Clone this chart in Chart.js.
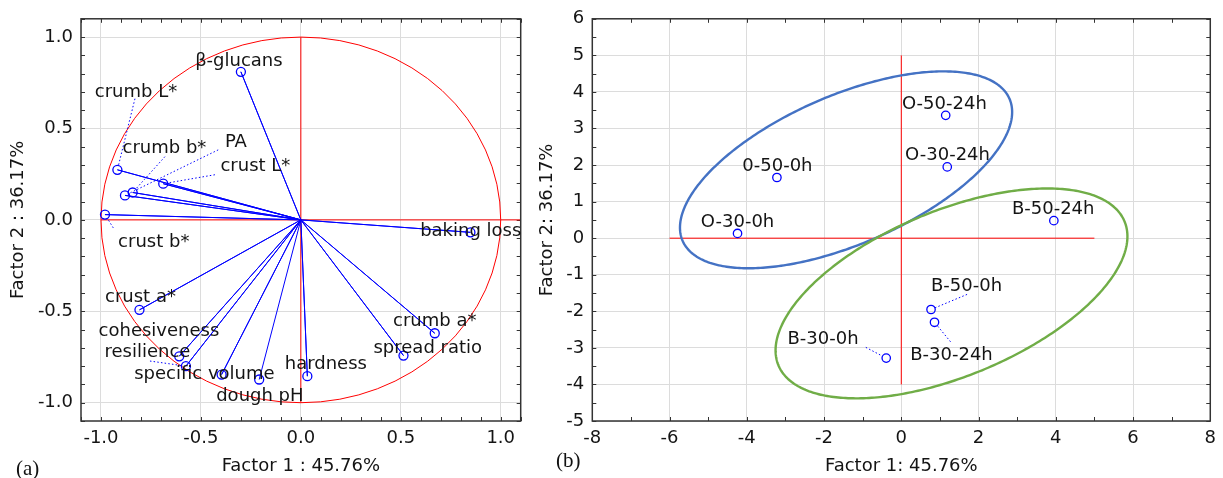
<!DOCTYPE html>
<html><head><meta charset="utf-8">
<script src="https://cdn.jsdelivr.net/npm/chart.js@4"></script>
<style>
html,body{margin:0;padding:0;background:#fff;width:1223px;height:478px;overflow:hidden;position:relative;}
#wa{position:absolute;left:0;top:0;width:540px;height:478px;}
#wb{position:absolute;left:536px;top:0;width:687px;height:478px;}
.tag{position:absolute;font-family:"Liberation Serif","DejaVu Serif",serif;font-size:21px;color:#111;line-height:1;}
</style></head><body>
<div id="wa"><canvas id="ca" width="540" height="478"></canvas></div>
<div id="wb"><canvas id="cb" width="687" height="478"></canvas></div>
<div class="tag" style="left:16px;top:458px">(a)</div>
<div class="tag" style="left:556px;top:450px">(b)</div>
<script>
// ---------- DATA: panel (a) factor loadings ----------
const loadingVars = ["β-glucans","crumb L*","crumb b*","PA","crust L*","crust b*","baking loss","crumb a*","spread ratio","hardness","crust a*","cohesiveness","resilience","specific volume","dough pH"];
const factor1Loadings = [-0.30,-0.918,-0.8415,-0.88,-0.6885,-0.98,0.8485,0.67,0.5135,0.0325,-0.8075,-0.6085,-0.575,-0.3965,-0.2085];
const factor2Loadings = [0.81,0.274,0.15,0.134,0.198,0.029,-0.068,-0.62,-0.742,-0.855,-0.492,-0.746,-0.80,-0.846,-0.873];
const loadingTicks = [-1.0,-0.5,0.0,0.5,1.0];

// ---------- DATA: panel (b) factor scores ----------
const sampleNames = ["O-50-24h","O-30-24h","B-50-24h","B-50-0h","B-30-24h","B-30-0h","0-50-0h","O-30-0h"];
const factor1Scores = [1.15,1.19,3.95,0.77,0.86,-0.39,-3.22,-4.24];
const factor2Scores = [3.36,1.95,0.48,-1.95,-2.30,-3.28,1.66,0.13];
const scoreXTicks = [-8,-6,-4,-2,0,2,4,6,8];
const scoreYTicks = [-5,-4,-3,-2,-1,0,1,2,3,4,5,6];

// ---------- label placement (data coords) ----------
const loadingLabelX = [-0.31,-0.825,-0.6825,-0.325,-0.2275,-0.736,0.85,0.67,0.635,0.125,-0.8025,-0.71,-0.7675,-0.4825,-0.205];
const loadingLabelY = [0.879,0.71,0.40,0.433,0.303,-0.112,-0.05,-0.545,-0.692,-0.779,-0.415,-0.601,-0.717,-0.837,-0.957];
const loadingLeaders = [["crumb L*",-0.83,0.663],["crumb b*",-0.68,0.346],["PA",-0.4135,0.383],["crust L*",-0.43,0.247],["crust b*",-0.9385,-0.0435],["resilience",-0.755,-0.772]];
const scoreLabelX = [1.115,1.197,3.933,1.688,1.30,-2.026,-3.208,-4.24];
const scoreLabelY = [3.716,2.303,0.847,-1.276,-3.142,-2.724,2.003,0.492];
const scoreLeaders = [["B-50-0h",1.703,-1.538],["B-30-24h",1.275,-2.833],["B-30-0h",-0.919,-2.986]];

// reference lines / shapes (data coords)
const loadAxisH = [-1.0, 1.1];
const loadAxisV = [-1.0, 1.0];
const scoreAxisH = [-6, 5];
const scoreAxisV = [-4, 5];
const groupEllipses = [
  {cx:-1.43, cy:1.87, a:4.30, b:1.58, c:2.18, color:'#4472c4'},
  {cx:1.30, cy:-1.51, a:4.555, b:1.559, c:2.41, color:'#70ad47'}
];

const FONT = '"DejaVu Sans","Liberation Sans",sans-serif';
const TXT = '#141414';

function axisOpts(o){
  return {
    type:'linear', position:o.pos, min:o.min, max:o.max,
    afterBuildTicks: s => { s.ticks = o.ticks.map(v=>({value:v})); },
    afterFit: s => { if (o.pos==='left') s.width = o.size; else s.height = o.size; },
    ticks:{ callback:o.fmt, color:TXT, font:{family:FONT,size:18}, padding:o.pad, autoSkip:false, maxRotation:0, minRotation:0 },
    grid:{ color:'#dcdcdc', lineWidth:1, drawTicks:false },
    border:{ display:false },
    title:{ display:true, text:o.title, color:TXT, font:{family:FONT,size:18}, padding:o.tpad }
  };
}

function framePlugin(minorX, minorY){
  return {
    id:'frame',
    beforeDatasetsDraw(chart){
      const {ctx, chartArea:a, scales:{x,y}} = chart;
      ctx.save();
      ctx.strokeStyle='#333'; ctx.lineWidth=1;
      ctx.beginPath();
      for(let k=Math.ceil(x.min/minorX-1e-9); k<=Math.floor(x.max/minorX+1e-9); k++){
        const px = Math.round(x.getPixelForValue(k*minorX))+0.5;
        ctx.moveTo(px,a.bottom); ctx.lineTo(px,a.bottom-4);
        ctx.moveTo(px,a.top); ctx.lineTo(px,a.top+4);
      }
      for(let k=Math.ceil(y.min/minorY-1e-9); k<=Math.floor(y.max/minorY+1e-9); k++){
        const py = Math.round(y.getPixelForValue(k*minorY))+0.5;
        ctx.moveTo(a.left,py); ctx.lineTo(a.left+4,py);
        ctx.moveTo(a.right,py); ctx.lineTo(a.right-4,py);
      }
      ctx.stroke();
      ctx.restore();
    },
    afterDatasetsDraw(chart){
      const {ctx, chartArea:a} = chart;
      ctx.save();
      ctx.strokeStyle='#333'; ctx.lineWidth=1.5;
      ctx.strokeRect(a.left,a.top,a.right-a.left,a.bottom-a.top);
      ctx.restore();
    }
  };
}

function labelPlugin(names, xs, ys, lx, ly, leaders, radius){
  return {
    id:'labels',
    afterDatasetsDraw(chart){
      const {ctx, scales:{x,y}} = chart;
      ctx.save();
      ctx.strokeStyle='#0000ff'; ctx.lineWidth=1; ctx.setLineDash([1.5,2.2]);
      leaders.forEach(([n,sx,sy])=>{
        const i = names.indexOf(n);
        const x0=x.getPixelForValue(sx), y0=y.getPixelForValue(sy);
        const x1=x.getPixelForValue(xs[i]), y1=y.getPixelForValue(ys[i]);
        const d=Math.hypot(x1-x0,y1-y0)||1;
        ctx.beginPath(); ctx.moveTo(x0,y0);
        ctx.lineTo(x1-(x1-x0)/d*radius, y1-(y1-y0)/d*radius); ctx.stroke();
      });
      ctx.setLineDash([]);
      ctx.fillStyle=TXT; ctx.font='18px '+FONT; ctx.textAlign='center'; ctx.textBaseline='alphabetic';
      names.forEach((n,i)=>{
        ctx.fillText(n, x.getPixelForValue(lx[i]), y.getPixelForValue(ly[i])+6.5);
      });
      ctx.restore();
    }
  };
}

const unitCirclePlugin = {
  id:'unitCircle',
  beforeDatasetsDraw(chart){
    const {ctx, scales:{x,y}} = chart;
    const cx=x.getPixelForValue(0), cy=y.getPixelForValue(0);
    const rx=x.getPixelForValue(1)-cx, ry=cy-y.getPixelForValue(1);
    ctx.save(); ctx.strokeStyle='#ff0000'; ctx.lineWidth=1;
    ctx.beginPath(); ctx.ellipse(cx,cy,rx,ry,0,0,Math.PI*2); ctx.stroke(); ctx.restore();
  }
};

const ellipsePlugin = {
  id:'groupEllipses',
  afterDatasetsDraw(chart){
    const {ctx, scales:{x,y}} = chart;
    ctx.save(); ctx.lineWidth=2.4;
    groupEllipses.forEach(e=>{
      ctx.strokeStyle=e.color; ctx.beginPath();
      for(let k=0;k<=360;k++){
        const t=k*Math.PI/180;
        const dx=e.cx+e.a*Math.cos(t), dy=e.cy+e.b*Math.cos(t)+e.c*Math.sin(t);
        const px=x.getPixelForValue(dx), py=y.getPixelForValue(dy);
        if(k===0) ctx.moveTo(px,py); else ctx.lineTo(px,py);
      }
      ctx.closePath(); ctx.stroke();
    });
    ctx.restore();
  }
};

// ---------- panel (a) ----------
const vectorData = [];
factor1Loadings.forEach((v,i)=>{ vectorData.push({x:0,y:0}); vectorData.push({x:v,y:factor2Loadings[i]}); });

new Chart(document.getElementById('ca'), {
  type:'scatter',
  data:{ datasets:[
    {label:'loadings', data:loadingVars.map((n,i)=>({x:factor1Loadings[i],y:factor2Loadings[i]})), pointRadius:4.5, pointBorderColor:'#0000ff', pointBackgroundColor:'rgba(0,0,0,0)', pointBorderWidth:1.3, showLine:false, order:0},
    {label:'vectors', data:vectorData, showLine:true, borderColor:'#0000ff', borderWidth:1, pointRadius:0, order:1},
    {label:'h', data:[{x:loadAxisH[0],y:0},{x:loadAxisH[1],y:0}], showLine:true, borderColor:'#ff0000', borderWidth:1, pointRadius:0, order:2},
    {label:'v', data:[{x:0,y:loadAxisV[0]},{x:0,y:loadAxisV[1]}], showLine:true, borderColor:'#ff0000', borderWidth:1, pointRadius:0, order:2}
  ]},
  options:{
    responsive:false, animation:false, clip:false,
    layout:{ padding:{ left:0, top:16, right:19.3, bottom:0 } },
    plugins:{ legend:{display:false}, tooltip:{enabled:false} },
    scales:{
      x: axisOpts({pos:'bottom', min:-1.1, max:1.1, ticks:loadingTicks, size:57, pad:7, fmt:v=>Number(v).toFixed(1), title:'Factor 1 : 45.76%', tpad:{top:0,bottom:1}}),
      y: axisOpts({pos:'left', min:-1.1, max:1.1, ticks:loadingTicks, size:81, pad:8, fmt:v=>Number(v).toFixed(1), title:'Factor 2 : 36.17%', tpad:{top:8,bottom:0}})
    }
  },
  plugins:[framePlugin(0.1,0.1), unitCirclePlugin, labelPlugin(loadingVars, factor1Loadings, factor2Loadings, loadingLabelX, loadingLabelY, loadingLeaders, 4.5)]
});

// ---------- panel (b) ----------
new Chart(document.getElementById('cb'), {
  type:'scatter',
  data:{ datasets:[
    {label:'scores', data:sampleNames.map((n,i)=>({x:factor1Scores[i],y:factor2Scores[i]})), pointRadius:4.2, pointBorderColor:'#0000ff', pointBackgroundColor:'rgba(0,0,0,0)', pointBorderWidth:1.3, showLine:false, order:0},
    {label:'h', data:[{x:scoreAxisH[0],y:0},{x:scoreAxisH[1],y:0}], showLine:true, borderColor:'#ff0000', borderWidth:1, pointRadius:0, order:2},
    {label:'v', data:[{x:0,y:scoreAxisV[0]},{x:0,y:scoreAxisV[1]}], showLine:true, borderColor:'#ff0000', borderWidth:1, pointRadius:0, order:2}
  ]},
  options:{
    responsive:false, animation:false, clip:false,
    layout:{ padding:{ left:0, top:18.3, right:10.3, bottom:0 } },
    plugins:{ legend:{display:false}, tooltip:{enabled:false} },
    scales:{
      x: axisOpts({pos:'bottom', min:-8, max:8, ticks:scoreXTicks, size:57, pad:7, fmt:v=>String(v), title:'Factor 1: 45.76%', tpad:{top:0,bottom:1}}),
      y: axisOpts({pos:'left', min:-5, max:6, ticks:scoreYTicks, size:56.3, pad:8, fmt:v=>String(v), title:'Factor 2: 36.17%', tpad:{top:0.7,bottom:0}})
    }
  },
  plugins:[framePlugin(1,0.5), ellipsePlugin, labelPlugin(sampleNames, factor1Scores, factor2Scores, scoreLabelX, scoreLabelY, scoreLeaders, 4.2)]
});
</script>
</body></html>
